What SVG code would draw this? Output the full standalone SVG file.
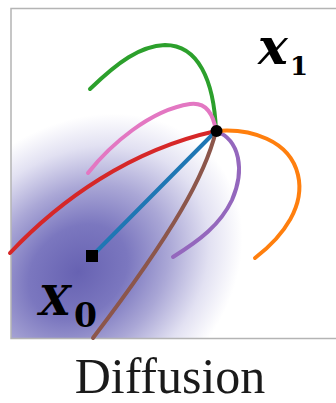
<svg xmlns="http://www.w3.org/2000/svg" width="336" height="403" viewBox="0 0 336 403">
  <defs>
    <radialGradient id="cloud" gradientUnits="userSpaceOnUse" cx="0" cy="0" r="155" gradientTransform="translate(78 272) rotate(-40) scale(1.15 0.92)">
      <stop offset="0" stop-color="#6762b2"/>
      <stop offset="0.3" stop-color="#7b77bf"/>
      <stop offset="0.55" stop-color="#aaa7d6"/>
      <stop offset="0.8" stop-color="#e2e1f2"/>
      <stop offset="1" stop-color="#ffffff"/>
    </radialGradient>
    <clipPath id="frame">
      <rect x="11" y="8.5" width="340" height="330"/>
    </clipPath>
    <style>
      .c { fill: none; stroke-width: 4; stroke-linecap: round; }
      .math { font-family: "DejaVu Serif", "Liberation Serif", serif; font-weight: bold; fill: #000; }
    </style>
  </defs>
  <rect width="336" height="403" fill="#ffffff"/>
  <g id="panel">
    <rect x="11" y="8.5" width="340" height="330" fill="#ffffff"/>
    <rect x="11" y="8.5" width="340" height="330" fill="url(#cloud)" clip-path="url(#frame)"/>
    <rect x="11" y="8.5" width="340" height="330" fill="none" stroke="#b4b4b4" stroke-width="1.5"/>
  </g>
  <g id="connectors">
    <path class="c" stroke="#2ca02c" d="M90,89 C118,62 140,46 165,45 C198,45 214,80 216,131"/>
    <path class="c" stroke="#e377c2" d="M88,173 C110,145 150,110 190,104 C205,102 213,112 216,131"/>
    <path class="c" stroke="#d62728" d="M10,253 C60,200 130,150 216,131"/>
    <path class="c" stroke="#1f77b4" d="M92,256 L216,131"/>
    <path class="c" stroke="#8c564b" d="M216,131 C205,175 175,230 93,338"/>
    <path class="c" stroke="#9467bd" d="M216,131 C240,140 245,170 232,200 C220,225 200,240 173,257"/>
    <path class="c" stroke="#ff7f0e" d="M216,131 C250,128 290,140 298,175 C305,205 285,235 255,258"/>
  </g>
  <g id="x1-point">
    <circle cx="216.5" cy="131" r="6" fill="#000"/>
    <text class="math" x="258" y="64" font-size="50" font-style="italic">x</text>
    <text class="math" x="290" y="75" font-size="26">1</text>
  </g>
  <g id="x0-point">
    <rect x="86" y="250" width="12" height="12" fill="#000"/>
    <text class="math" x="39" y="315" font-size="41" font-style="italic">X</text>
    <text class="math" x="74" y="327" font-size="33">0</text>
  </g>
  <g id="caption">
    <text x="170" y="393" font-family="Liberation Serif, serif" font-size="50" text-anchor="middle" fill="#1a1a1a">Diffusion</text>
  </g>
</svg>
